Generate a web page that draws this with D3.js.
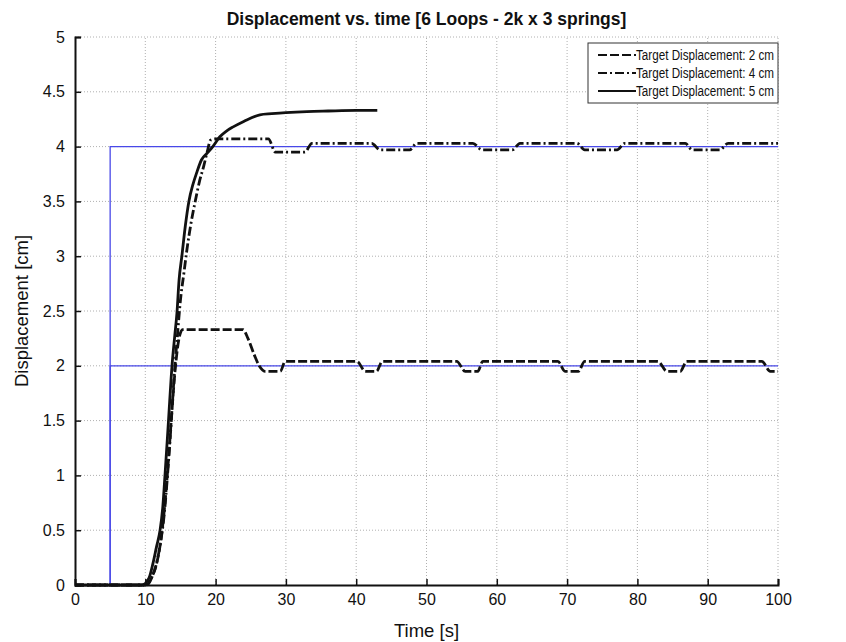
<!DOCTYPE html>
<html>
<head>
<meta charset="utf-8">
<script src="https://cdn.jsdelivr.net/npm/d3@7"></script>
<style>
  body { margin:0; background:#fff; }
  svg { font-family: Arial, "Liberation Sans", sans-serif; }
</style>
</head>
<body>
<svg id="chart"></svg>
<script>
// data
var xTicks = [0,10,20,30,40,50,60,70,80,90,100]
var yTicks = [0,0.5,1,1.5,2,2.5,3,3.5,4,4.5,5]

var targetT = [0, 5, 5, 100]
var target4 = [0, 0, 4, 4]
var target2 = [0, 0, 2, 2]

var t5 = [0, 9.5, 10.5, 11.1, 11.6, 12.1, 12.5, 12.8, 13.3, 13.8, 14.2, 14.5, 14.8, 15.2, 15.7, 16.2, 16.8, 17.3, 18, 18.8, 19.6, 20.6, 21.5, 22.5, 24, 26.3, 28, 30, 33, 36, 40, 43]
var y5 = [0, 0, 0.06, 0.2, 0.35, 0.5, 0.72, 1.0, 1.5, 2.0, 2.28, 2.48, 2.78, 3.0, 3.28, 3.5, 3.66, 3.76, 3.88, 3.94, 4.0, 4.09, 4.14, 4.18, 4.23, 4.29, 4.3, 4.31, 4.32, 4.325, 4.33, 4.33]

var t4 = [0, 10.0, 11.0, 11.6, 12.2, 12.7, 13.1, 13.6, 14.1, 14.6, 15.0, 15.5, 15.9, 16.5, 17.1, 17.7, 18.3, 18.8, 19.3, 20, 27.5, 28.5, 32.7, 33.7, 42.2, 43.4, 47.6, 48.6, 56.6, 57.9, 62.2, 63.3, 71.4, 72.5, 77.1, 78.2, 86.8, 87.8, 91.7, 92.9, 100]
var y4 = [0, 0, 0.08, 0.2, 0.4, 0.65, 0.95, 1.4, 1.9, 2.3, 2.6, 2.85, 3.05, 3.3, 3.5, 3.68, 3.82, 3.95, 4.06, 4.07, 4.07, 3.95, 3.95, 4.03, 4.03, 3.97, 3.97, 4.03, 4.03, 3.97, 3.97, 4.03, 4.03, 3.97, 3.97, 4.03, 4.03, 3.97, 3.97, 4.03, 4.03]

var t2 = [0, 10.2, 11.0, 11.7, 12.3, 12.8, 13.3, 13.8, 14.3, 14.8, 15.3, 23.9, 24.6, 25.5, 26.2, 27, 29.2, 29.9, 40.1, 41.3, 42.9, 43.7, 54.3, 55.5, 57.3, 58, 68.7, 69.7, 71.6, 72.5, 82.9, 84.2, 86.1, 87, 97.7, 98.9, 100]
var y2 = [0, 0, 0.08, 0.22, 0.45, 0.75, 1.15, 1.6, 2.0, 2.25, 2.33, 2.33, 2.25, 2.1, 2.0, 1.95, 1.95, 2.04, 2.04, 1.95, 1.95, 2.04, 2.04, 1.95, 1.95, 2.04, 2.04, 1.95, 1.95, 2.04, 2.04, 1.95, 1.95, 2.04, 2.04, 1.95, 1.95]

var legendLabels = ['Target Displacement: 2 cm','Target Displacement: 4 cm','Target Displacement: 5 cm']
var legendDash = ['9,3','9,3,2,3','none']

var width = 846, height = 642
var margins = { top: 37, bottom: 57, left: 75, right: 68 }

var zip = (xs, ys) => xs.map((x, i) => ({t: x, v: ys[i]}))

var svg = d3.select('#chart')
            .attr('width', width)
            .attr('height', height)

var xScale = d3.scaleLinear()
               .domain([0, 100])
               .range([margins.left, width - margins.right])
var yScale = d3.scaleLinear()
               .domain([0, 5])
               .range([height - margins.bottom, margins.top])

// grid
svg.append('g')
   .selectAll('line')
   .data(xTicks.slice(1))
   .enter()
   .append('line')
   .attr('x1', d => xScale(d)).attr('x2', d => xScale(d))
   .attr('y1', yScale(0)).attr('y2', yScale(5))
   .attr('stroke', '#b0b0b0')
   .attr('stroke-dasharray', '1,2')
svg.append('g')
   .selectAll('line')
   .data(yTicks.slice(1))
   .enter()
   .append('line')
   .attr('x1', xScale(0)).attr('x2', xScale(100))
   .attr('y1', d => yScale(d)).attr('y2', d => yScale(d))
   .attr('stroke', '#b0b0b0')
   .attr('stroke-dasharray', '1,2')

var line = d3.line()
             .x(d => xScale(d.t))
             .y(d => yScale(d.v))

// target steps (blue)
svg.append('path')
   .datum(zip(targetT, target2))
   .attr('fill', 'none')
   .attr('stroke', '#4848e8')
   .attr('stroke-width', 1.3)
   .attr('d', line)
svg.append('path')
   .datum(zip(targetT, target4))
   .attr('fill', 'none')
   .attr('stroke', '#4848e8')
   .attr('stroke-width', 1.3)
   .attr('d', line)

var smooth = d3.line()
               .curve(d3.curveMonotoneX)
               .x(d => xScale(d.t))
               .y(d => yScale(d.v))

var series = [
  {data: zip(t2, y2), dash: legendDash[0]},
  {data: zip(t4, y4), dash: legendDash[1]},
  {data: zip(t5, y5), dash: legendDash[2]}
]
series.forEach(function(s){
  svg.append('path')
     .datum(s.data)
     .attr('fill', 'none')
     .attr('stroke', '#111')
     .attr('stroke-width', 2.8)
     .attr('stroke-dasharray', s.dash)
     .attr('stroke-linejoin', 'round')
     .attr('d', smooth)
})

// axes
var xAxis = d3.axisBottom(xScale).tickValues(xTicks).tickSize(-6).tickPadding(9).tickFormat(d3.format('d'))
var yAxis = d3.axisLeft(yScale).tickValues(yTicks).tickSize(-6).tickPadding(10).tickFormat(d => d)

var gx = svg.append('g')
            .attr('transform', `translate(0,${height - margins.bottom})`)
            .call(xAxis)
var gy = svg.append('g')
            .attr('transform', `translate(${margins.left},0)`)
            .call(yAxis)
;[gx, gy].forEach(function(g){
  g.select('.domain').attr('stroke', '#111').attr('stroke-width', 2)
  g.selectAll('.tick line').attr('stroke', '#111').attr('stroke-width', 1.5)
  g.selectAll('.tick text').attr('font-size', 16).attr('fill', '#111').attr('font-family', 'Arial, "Liberation Sans", sans-serif')
})

// titles
svg.append('text')
   .attr('x', (margins.left + width - margins.right) / 2)
   .attr('y', 25)
   .attr('text-anchor', 'middle')
   .attr('font-size', 17.5)
   .attr('font-weight', 'bold')
   .attr('fill', '#111')
   .text('Displacement vs. time [6 Loops - 2k x 3 springs]')
svg.append('text')
   .attr('x', (margins.left + width - margins.right) / 2)
   .attr('y', 637)
   .attr('text-anchor', 'middle')
   .attr('font-size', 18.5)
   .attr('fill', '#111')
   .text('Time [s]')
svg.append('text')
   .attr('transform', `translate(28,${(margins.top + height - margins.bottom) / 2}) rotate(-90)`)
   .attr('text-anchor', 'middle')
   .attr('font-size', 18.5)
   .attr('fill', '#111')
   .text('Displacement [cm]')

// legend
var legend = svg.append('g').attr('transform', 'translate(588,43)')
legend.append('rect')
      .attr('width', 190)
      .attr('height', 60)
      .attr('fill', '#fff')
      .attr('stroke', '#333')
      .attr('stroke-width', 1)
var items = legend.selectAll('.item')
                  .data(legendLabels)
                  .enter()
                  .append('g')
                  .attr('transform', (d, i) => `translate(0,${12 + i * 18})`)
items.append('line')
     .attr('x1', 10).attr('x2', 48)
     .attr('stroke', '#111')
     .attr('stroke-width', 2)
     .attr('stroke-dasharray', (d, i) => legendDash[i])
items.append('text')
     .attr('x', 48)
     .attr('y', 5)
     .attr('font-size', 14)
     .attr('textLength', 138)
     .attr('lengthAdjust', 'spacingAndGlyphs')
     .attr('fill', '#111')
     .text(d => d)
</script>
</body>
</html>
